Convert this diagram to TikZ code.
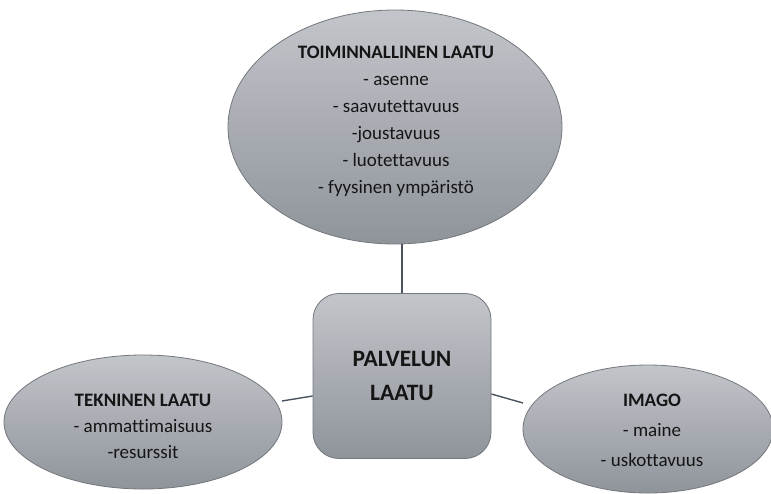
\documentclass[tikz,border=0pt]{standalone}
\usepackage{fontspec}
\setmainfont[Ligatures=NoCommon]{Carlito}
\usetikzlibrary{shapes.geometric}
\definecolor{bubbletop}{HTML}{C2C5CA}
\definecolor{bubblebot}{HTML}{8F949B}
\definecolor{rimgray}{HTML}{74777C}
\definecolor{linkgray}{HTML}{4B5361}
\definecolor{inkgray}{HTML}{151515}
\tikzset{
  bubble/.style={ellipse, draw=rimgray, line width=0.8pt, inner sep=0pt,
    top color=bubbletop, bottom color=bubblebot, text=inkgray, align=center},
  hub/.style={rectangle, rounded corners=26pt, draw=rimgray, line width=0.8pt,
    top color=bubbletop, bottom color=bubblebot, text=inkgray, align=center,
    inner sep=0pt},
  link/.style={draw=linkgray, line width=1.4pt},
  txt/.style={align=center, text=inkgray}
}
\begin{document}
\begin{tikzpicture}[x=1pt,y=-1pt]
\useasboundingbox[fill=white] (0,0) rectangle (771,493);
% central box
\node[hub, minimum width=178pt, minimum height=165pt,
      font=\bfseries\fontsize{23.5}{34}\selectfont] (hub) at (402,376) {PALVELUN\\LAATU};
% surrounding qualities
\node[bubble, minimum width=334pt, minimum height=234pt] (toim) at (395,127) {};
\node[bubble, minimum width=278pt, minimum height=134pt] (tekn) at (143,422) {};
\node[bubble, minimum width=250pt, minimum height=128pt] (imago) at (648,429) {};
% texts
\node[txt, font=\fontsize{19}{27}\selectfont] (toimtxt) at (396,121)
  {\textbf{TOIMINNALLINEN LAATU}\\- asenne\\- saavutettavuus\\-joustavuus\\- luotettavuus\\- fyysinen ympäristö};
\node[txt, font=\fontsize{19}{26}\selectfont] (tekntxt) at (143,426)
  {\textbf{TEKNINEN LAATU}\\- ammattimaisuus\\-resurssit};
\node[txt, font=\fontsize{19}{30}\selectfont] (imagotxt) at (652,430)
  {\textbf{IMAGO}\\- maine\\- uskottavuus};
% connectors
\coordinate (tekend) at (282,401);
\coordinate (imgend) at (523,403);
\draw[link] (hub.north) -- (hub.north |- toim.south);
\draw[link] (tekend) -- (hub.west |- 0,396);
\draw[link] (hub.east |- 0,394) -- (imgend);
\end{tikzpicture}
\end{document}
